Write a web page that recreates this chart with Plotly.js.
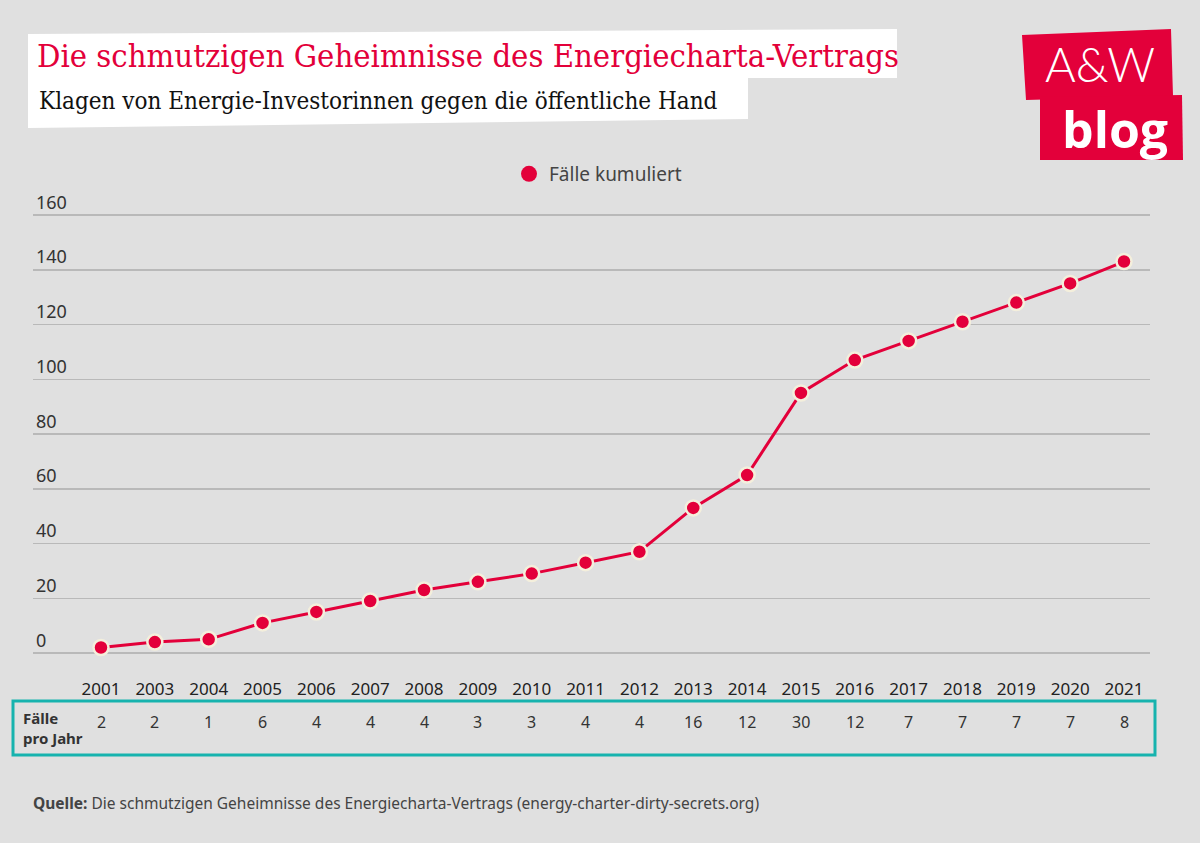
<!DOCTYPE html>
<html>
<head>
<meta charset="utf-8">
<script src="https://cdn.plot.ly/plotly-3.0.1.min.js"></script>
<style>
  html, body { margin: 0; padding: 0; background: #e0e0e0; }
  #chart { width: 1200px; height: 843px; }
</style>
</head>
<body>
<div id="chart"></div>
<script>
// ---- data ----
const years = ["2001","2003","2004","2005","2006","2007","2008","2009","2010","2011","2012","2013","2014","2015","2016","2017","2018","2019","2020","2021"];
const casesCumulative = [2,4,5,11,15,19,23,26,29,33,37,53,65,95,107,114,121,128,135,143];
const casesPerYear = [2,2,1,6,4,4,4,3,3,4,4,16,12,30,12,7,7,7,7,8];
const yTicks = [0,20,40,60,80,100,120,140,160];
const seriesName = "Fälle kumuliert";
const titleText = "Die schmutzigen Geheimnisse des Energiecharta-Vertrags";
const subtitleText = "Klagen von Energie-Investorinnen gegen die öffentliche Hand";
const tableLabel = "Fälle<br>pro Jahr";
const sourceText = "<b>Quelle:</b> Die schmutzigen Geheimnisse des Energiecharta-Vertrags (energy-charter-dirty-secrets.org)";

// ---- layout geometry (pixels) ----
const L = 33, R = 1150, T = 185, B = 665;
const W = R - L, H = B - T;
const px = v => (v - L) / W;
const py = v => (B - v) / H;
const path = pts => "M" + pts.map(p => px(p[0]) + "," + py(p[1])).join(" L") + " Z";
// y scale: value 0 at 653px, 160 at 215px
const pxPerUnit = (653 - 215) / 160;
const yRange = [-(B - 653) / pxPerUnit, (653 - T) / pxPerUnit];
// x scale: first category at 101px, last at 1124px
const step = (1124 - 101) / (years.length - 1);
const xRange = [-(101 - L) / step, (R - 101) / step];

const RED = "#e3003a";
const sans = "'Noto Sans', 'Open Sans', sans-serif";
const slab = "'DejaVu Serif Condensed', 'DejaVu Serif', serif";

const traces = [
  {
    x: years, y: casesCumulative, type: "scatter", mode: "lines+markers",
    name: seriesName, showlegend: false, cliponaxis: false,
    line: { color: RED, width: 3 },
    marker: { color: RED, size: 15, line: { color: "#f4efdc", width: 2.5 } }
  },
  {
    x: [null], y: [null], type: "scatter", mode: "markers",
    name: seriesName, showlegend: true,
    marker: { color: RED, size: 24 }
  }
];

const annotations = years.map((yr, i) => ({
  x: i, xref: "x", y: py(722), yref: "paper",
  text: String(casesPerYear[i]), showarrow: false,
  xanchor: "center", yanchor: "middle",
  font: { family: sans, size: 16, color: "#333" }
}));

annotations.push({
  x: px(21), xref: "paper", y: py(728), yref: "paper",
  text: tableLabel, showarrow: false, align: "left",
  xanchor: "left", yanchor: "middle",
  font: { family: sans, size: 15, color: "#333", weight: 700 }
});
annotations.push({
  x: px(37), xref: "paper", y: py(101), yref: "paper",
  text: subtitleText, showarrow: false,
  xanchor: "left", yanchor: "middle",
  font: { family: slab, size: 24, color: "#111" }
});
annotations.push({
  x: px(31), xref: "paper", y: py(803), yref: "paper",
  text: sourceText, showarrow: false,
  xanchor: "left", yanchor: "middle",
  font: { family: sans, size: 15.5, color: "#444" }
});
annotations.push({
  x: px(1100), xref: "paper", y: py(64), yref: "paper",
  text: "A&W", showarrow: false,
  xanchor: "center", yanchor: "middle",
  font: { family: "Lato, Roboto, sans-serif", size: 47, color: "#ffffff", weight: 300 }
});
annotations.push({
  x: px(1115), xref: "paper", y: py(129), yref: "paper",
  text: "blog", showarrow: false,
  xanchor: "center", yanchor: "middle",
  font: { family: "'Open Sans', sans-serif", size: 50, color: "#ffffff", weight: 700 }
});

const shapes = [
  // title white box
  { type: "path", xref: "paper", yref: "paper", layer: "below",
    path: path([[28,34],[897,29],[897,78],[28,78]]),
    fillcolor: "#ffffff", line: { width: 0 } },
  // subtitle white box
  { type: "path", xref: "paper", yref: "paper", layer: "below",
    path: path([[28,77],[748,77],[748,119],[28,128]]),
    fillcolor: "#ffffff", line: { width: 0 } },
  // logo boxes
  { type: "path", xref: "paper", yref: "paper", layer: "above",
    path: path([[1022,35],[1171,29],[1173,96],[1026,100]]),
    fillcolor: RED, line: { width: 0 } },
  { type: "path", xref: "paper", yref: "paper", layer: "above",
    path: path([[1040,97],[1182,95],[1183,160],[1040,160]]),
    fillcolor: RED, line: { width: 0 } },
  // table frame
  { type: "rect", xref: "paper", yref: "paper",
    x0: px(13), x1: px(1155), y0: py(701), y1: py(755),
    line: { color: "#17b3ae", width: 3 }, fillcolor: "rgba(0,0,0,0)" }
];

const layout = {
  width: 1200, height: 843,
  paper_bgcolor: "#e0e0e0", plot_bgcolor: "#e0e0e0",
  margin: { l: L, r: 1200 - R, t: T, b: 843 - B, pad: 0 },
  title: {
    text: titleText, x: 37 / 1200, xanchor: "left", xref: "container",
    y: 1 - 56 / 843, yanchor: "middle", yref: "container",
    font: { family: slab, size: 32.5, color: RED }
  },
  showlegend: true,
  legend: {
    orientation: "h", x: px(598), xanchor: "center", y: py(174), yanchor: "middle",
    bgcolor: "rgba(0,0,0,0)", font: { family: sans, size: 19, color: "#444" }
  },
  xaxis: {
    type: "category", range: xRange,
    showgrid: false, zeroline: false, showline: false, ticks: "",
    tickfont: { family: sans, size: 17, color: "#222" },
    ticklabelstandoff: 12, fixedrange: true
  },
  yaxis: {
    range: yRange, tickmode: "array", tickvals: yTicks,
    ticktext: yTicks.map(String),
    ticklabelposition: "inside top",
    showgrid: true, gridcolor: "#b9b9b9", gridwidth: 1.5,
    zeroline: false, showline: false, ticks: "",
    tickfont: { family: sans, size: 18, color: "#333" },
    fixedrange: true
  },
  shapes: shapes,
  annotations: annotations,
  hovermode: false
};

Plotly.newPlot("chart", traces, layout, { displayModeBar: false, staticPlot: true });
</script>
</body>
</html>
